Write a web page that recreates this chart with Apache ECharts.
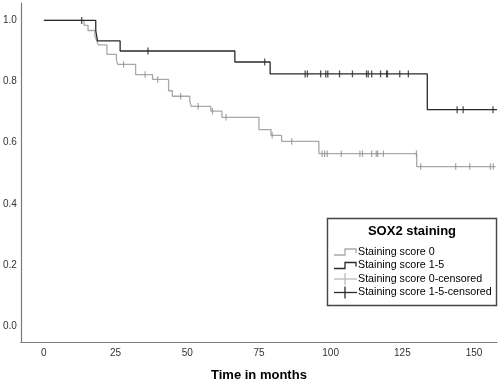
<!DOCTYPE html>
<html><head><meta charset="utf-8">
<script src="https://cdn.jsdelivr.net/npm/echarts@6/dist/echarts.min.js"></script>
<style>html,body{margin:0;padding:0;background:#fff}#c{width:500px;height:388px}</style>
</head><body><div id="c"></div>
<script>
const xTicks = [0, 25, 50, 75, 100, 125, 150];
const yTicks = [0, 0.2, 0.4, 0.6, 0.8, 1.0];
const xTitle = 'Time in months';
const legendTitle = 'SOX2 staining';
const seriesNames = ['Staining score 0', 'Staining score 1-5', 'Staining score 0-censored', 'Staining score 1-5-censored'];

// Kaplan-Meier steps: time (months) and survival after the step
const score0Times = [0, 14.0, 15.4, 17.8, 18.4, 19.0, 22.0, 25.3, 25.7, 32.0, 37.9, 43.5, 44.8, 50.9, 51.4, 58.2, 62.1, 75.0, 79.2, 82.9, 95.9, 130.0, 157.5];
const score0Surv  = [1.0, 0.984, 0.967, 0.950, 0.934, 0.920, 0.889, 0.872, 0.856, 0.823, 0.807, 0.770, 0.752, 0.735, 0.719, 0.703, 0.683, 0.643, 0.624, 0.604, 0.564, 0.522, 0.522];
const score15Times = [0, 18.1, 18.7, 26.6, 66.6, 78.9, 133.7, 158];
const score15Surv  = [1.0, 0.967, 0.933, 0.900, 0.864, 0.825, 0.708, 0.708];

// censoring times
const score0Censored = [27.8, 35.3, 39.7, 47.7, 53.8, 58.8, 63.5, 79.6, 86.4, 97.0, 97.9, 98.8, 103.7, 110.2, 111.1, 114.3, 115.9, 116.4, 118.4, 129.9, 131.4, 143.6, 148.5, 155.7, 156.7];
const score15Censored = [13.2, 36.3, 77.0, 91.1, 91.9, 96.5, 98.3, 99.0, 103.1, 107.6, 112.5, 113.1, 114.3, 117.4, 119.5, 119.8, 124.1, 127.1, 144.1, 146.2, 156.6];

function survAt(times, surv, t) {
  let s = surv[0];
  for (let i = 0; i < times.length; i++) { if (times[i] <= t) s = surv[i]; }
  return s;
}
const zip = (a, b) => a.map((v, i) => [v, b[i]]);
const censorPts = (ct, times, surv) => ct.map(t => [t, survAt(times, surv, t)]);

const GRAY = '#a8a8a8', BLACK = '#2a2a2a';
const chart = echarts.init(document.getElementById('c'));
const L = 334, rows = [252, 265.5, 279, 292.5];
function stepIcon(y, color) {
  return { type: 'polyline', z: 20, shape: { points: [[L, y + 3], [L + 11, y + 3], [L + 11, y - 3], [L + 22, y - 3], [L + 22, y + 1]] }, style: { stroke: color, lineWidth: 1.3, fill: 'none' } };
}
function crossIcon(y, color) {
  return [
    { type: 'line', z: 20, shape: { x1: L, y1: y, x2: L + 23, y2: y }, style: { stroke: color, lineWidth: 1.3 } },
    { type: 'line', z: 20, shape: { x1: L + 11, y1: y - 6, x2: L + 11, y2: y + 6 }, style: { stroke: color, lineWidth: 1.3 } }
  ];
}
function txt(x, y, s, size, weight, align) {
  return { type: 'text', z: 20, x: x, y: y, style: { text: s, fontSize: size, fontWeight: weight, fontFamily: 'Liberation Sans', fill: '#000', align: align, verticalAlign: 'middle' } };
}
chart.setOption({
  animation: false,
  grid: { left: 20, right: 3, top: 3, bottom: 46, containLabel: false },
  xAxis: {
    type: 'value', min: -8, max: 158,
    name: xTitle, nameLocation: 'middle', nameGap: 27,
    nameTextStyle: { fontFamily: 'Liberation Sans', fontWeight: 'bold', fontSize: 13, color: '#000' },
    axisLine: { show: true, onZero: false, lineStyle: { color: '#7a7a7a', width: 1.2 } },
    axisTick: { show: false }, splitLine: { show: false },
    axisLabel: { customValues: xTicks, color: '#333', fontSize: 10, fontFamily: 'Liberation Sans', margin: 6 }
  },
  yAxis: {
    type: 'value', min: -0.052, max: 1.057,
    axisLine: { show: true, onZero: false, lineStyle: { color: '#7a7a7a', width: 1.2 } },
    axisTick: { show: false }, splitLine: { show: false },
    axisLabel: { customValues: yTicks, formatter: v => v.toFixed(1), color: '#333', fontSize: 10, fontFamily: 'Liberation Sans', margin: 4 }
  },
  series: [
    { name: seriesNames[0], type: 'line', step: 'end', showSymbol: false, data: zip(score0Times, score0Surv), lineStyle: { color: GRAY, width: 1.3 }, z: 2 },
    { name: seriesNames[1], type: 'line', step: 'end', showSymbol: false, data: zip(score15Times, score15Surv), lineStyle: { color: BLACK, width: 1.3 }, z: 3 },
    { name: seriesNames[2], type: 'scatter', symbol: 'rect', symbolSize: [1.2, 6.5], data: censorPts(score0Censored, score0Times, score0Surv), itemStyle: { color: '#8f8f8f' }, z: 4 },
    { name: seriesNames[3], type: 'scatter', symbol: 'rect', symbolSize: [1.3, 7], data: censorPts(score15Censored, score15Times, score15Surv), itemStyle: { color: BLACK }, z: 5 }
  ],
  graphic: {
    elements: [
      { type: 'rect', z: 10, shape: { x: 327.5, y: 218.5, width: 169, height: 87 }, style: { fill: '#fff', stroke: '#444', lineWidth: 1.4 } },
      txt(412, 231, legendTitle, 13, 'bold', 'center'),
      stepIcon(rows[0], GRAY), txt(358, rows[0], seriesNames[0], 10.7, 'normal', 'left'),
      stepIcon(rows[1], BLACK), txt(358, rows[1], seriesNames[1], 10.7, 'normal', 'left'),
      ...crossIcon(rows[2], '#bbb'), txt(358, rows[2], seriesNames[2], 10.7, 'normal', 'left'),
      ...crossIcon(rows[3], BLACK), txt(358, rows[3], seriesNames[3], 10.7, 'normal', 'left')
    ]
  }
});
</script></body></html>
